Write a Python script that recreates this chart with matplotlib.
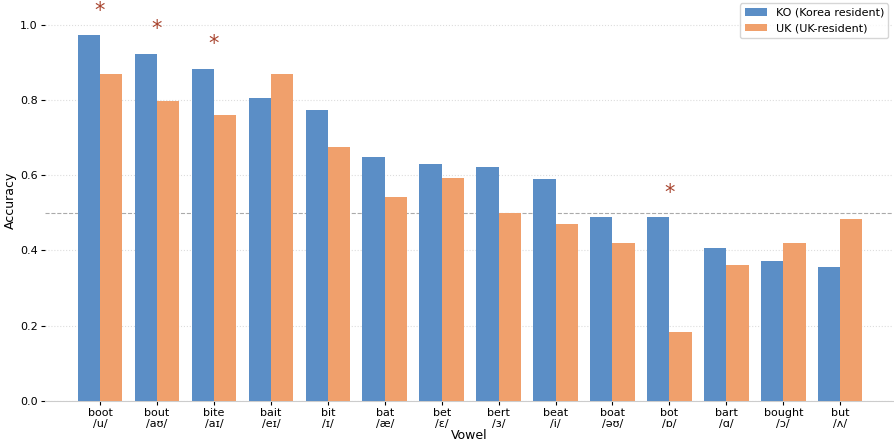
import numpy as np
import matplotlib
matplotlib.use("Agg")
import matplotlib.pyplot as plt

# vowel categories and per-group accuracy
words = ['boot', 'bout', 'bite', 'bait', 'bit', 'bat', 'bet', 'bert',
         'beat', 'boat', 'bot', 'bart', 'bought', 'but']
ipa = ['/u/', '/aʊ/', '/aɪ/', '/eɪ/', '/ɪ/', '/æ/', '/ɛ/', '/ɜ/',
       '/i/', '/əʊ/', '/ɒ/', '/ɑ/', '/ɔ/', '/ʌ/']
ko_acc = [0.973, 0.923, 0.883, 0.806, 0.774, 0.649, 0.630, 0.622,
          0.590, 0.489, 0.489, 0.407, 0.372, 0.355]
uk_acc = [0.870, 0.798, 0.761, 0.870, 0.676, 0.543, 0.592, 0.500,
          0.471, 0.420, 0.184, 0.362, 0.420, 0.484]
signif = [True, True, True, False, False, False, False, False,
          False, False, True, False, False, False]

plt.rcParams['font.family'] = ['DejaVu Sans']
fig, ax = plt.subplots(figsize=(8.95, 4.44), dpi=100)

x = np.arange(len(words))
w = 0.39
ax.bar(x - w/2, ko_acc, w, color='#5b8ec6', label='KO (Korea resident)', zorder=3)
ax.bar(x + w/2, uk_acc, w, color='#f0a06c', label='UK (UK-resident)', zorder=3)

# significance stars
for i in range(len(words)):
    if signif[i]:
        top = max(ko_acc[i], uk_acc[i])
        ax.text(x[i], top + 0.065, '*', ha='center', va='center',
                fontsize=15, color='#a8442e')

ax.axhline(0.5, color='#aaaaaa', linestyle='--', linewidth=0.8, zorder=2)
ax.yaxis.grid(True, linestyle=':', color='#dddddd', linewidth=0.8, zorder=0)

ax.set_xticks(x)
ax.set_xticklabels([a + '\n' + b for a, b in zip(words, ipa)], fontsize=8,
                   linespacing=1.1)
ax.set_yticks([0.0, 0.2, 0.4, 0.6, 0.8, 1.0])
ax.tick_params(axis='y', labelsize=8, length=3, pad=2)
ax.tick_params(axis='x', length=3, pad=2)
ax.set_xlim(-0.97, 13.93)
ax.set_ylim(0, 1.066)
ax.set_xlabel('Vowel', fontsize=9, labelpad=0)
ax.set_ylabel('Accuracy', fontsize=9, labelpad=2)

for s in ['top', 'right', 'left']:
    ax.spines[s].set_visible(False)
ax.spines['bottom'].set_color('#cccccc')

ax.legend(loc='upper right', fontsize=8, frameon=True,
          bbox_to_anchor=(0.997, 0.997), borderaxespad=0.2)

plt.subplots_adjust(left=0.05, right=0.998, top=1.0, bottom=0.097)
plt.savefig('out.png', dpi=100)
